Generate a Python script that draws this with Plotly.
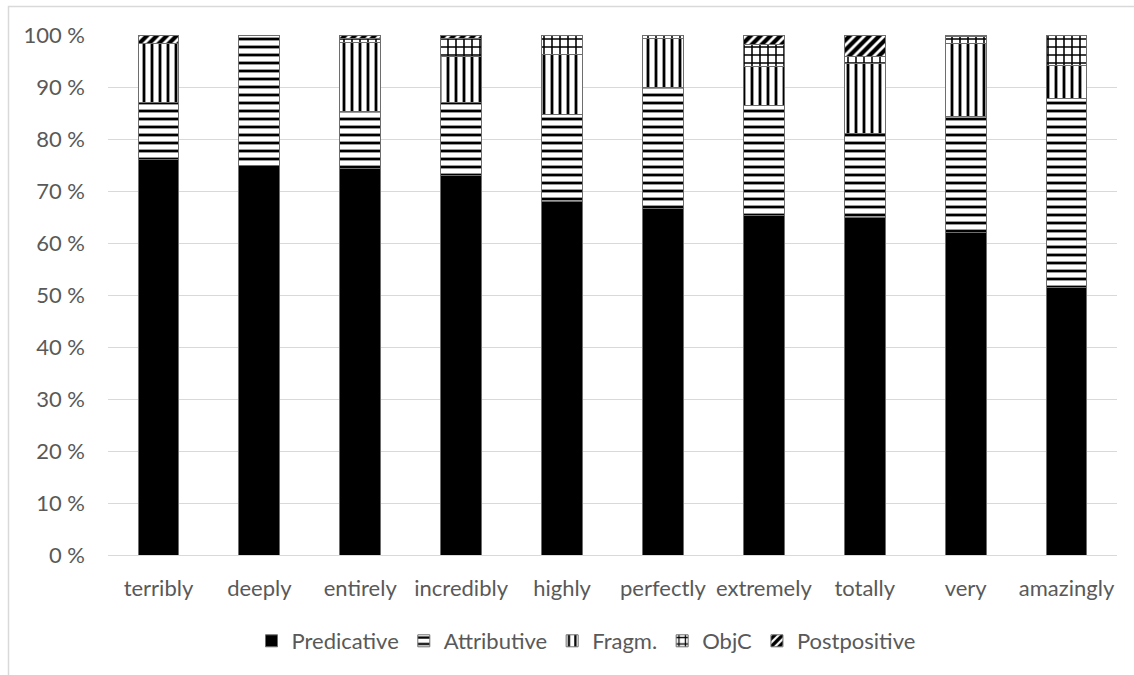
import plotly.graph_objects as go

# Intensifier collocates and their syntactic distribution (percent of uses)
adverbs = ["terribly", "deeply", "entirely", "incredibly", "highly",
           "perfectly", "extremely", "totally", "very", "amazingly"]

predicative = [76.0, 75.0, 74.4, 73.0, 67.9, 66.7, 65.2, 65.0, 62.1, 51.5]
attributive = [11.0, 25.0, 10.9, 14.0, 16.8, 23.3, 21.3, 16.0, 22.2, 36.2]
fragm = [11.3, 0.0, 13.2, 8.9, 11.5, 9.3, 7.5, 13.6, 14.1, 6.4]
objc = [0.0, 0.0, 0.9, 3.5, 3.8, 0.7, 4.1, 1.3, 1.3, 5.9]
postpositive = [1.7, 0.0, 0.6, 0.6, 0.0, 0.0, 1.9, 4.1, 0.3, 0.0]

tick_vals = [0, 10, 20, 30, 40, 50, 60, 70, 80, 90, 100]
tick_text = ["0 %", "10 %", "20 %", "30 %", "40 %", "50 %",
             "60 %", "70 %", "80 %", "90 %", "100 %"]

FONT = "Lato"
FSIZE = 22
GREY = "#595959"
EDGE = "#6e6e6e"


def hatch(shape, size=8, solidity=0.35):
    return dict(shape=shape, fgcolor="black", fgopacity=1, bgcolor="white",
                size=size, solidity=solidity, fillmode="replace")


series = [
    ("Predicative", predicative, dict(color="black")),
    ("Attributive", attributive, dict(color="white", pattern=hatch("-"))),
    ("Fragm.", fragm, dict(color="white", pattern=hatch("|"))),
    ("ObjC", objc, dict(color="white", pattern=hatch("+"))),
    ("Postpositive", postpositive,
     dict(color="white", pattern=hatch("/", size=7, solidity=0.6))),
]

fig = go.Figure()
for name, vals, mk in series:
    mk = dict(mk)
    mk["line"] = dict(color=EDGE, width=1)
    fig.add_trace(go.Bar(x=adverbs, y=vals, name=name, marker=mk))

# plot area geometry in pixels
W, H = 1134, 675
L, R, T, B = 108, 17, 35, 120
pw, ph = W - L - R, H - T - B


def px_x(p):
    return (p - L) / pw


def px_y(p):
    return (H - B - p) / ph


# light frame around the whole chart
fig.add_shape(type="rect", xref="paper", yref="paper",
              x0=px_x(8.5), x1=px_x(1160), y0=px_y(6.5), y1=px_y(700),
              line=dict(color="#d9d9d9", width=1.5), fillcolor="rgba(0,0,0,0)",
              layer="below")

fig.update_layout(
    width=W, height=H,
    barmode="stack", bargap=0.595,
    margin=dict(l=L, r=R, t=T, b=B, pad=0),
    paper_bgcolor="white", plot_bgcolor="white",
    font=dict(family=FONT, size=FSIZE, color=GREY),
    showlegend=True,
    legend=dict(orientation="h", x=px_x(586), xanchor="center",
                y=px_y(641), yanchor="middle",
                font=dict(family=FONT, size=FSIZE, color=GREY),
                itemwidth=30, traceorder="normal"),
    xaxis=dict(showgrid=False, showline=False, zeroline=False,
               ticks="", ticklabelstandoff=18,
               tickfont=dict(family=FONT, size=FSIZE, color=GREY)),
    yaxis=dict(range=[0, 100], tickmode="array", tickvals=tick_vals,
               ticktext=tick_text,
               showgrid=True, gridcolor="#d9d9d9", gridwidth=1,
               zeroline=True, zerolinecolor="#d9d9d9", zerolinewidth=1,
               showline=False, ticks="", ticklabelstandoff=22,
               tickfont=dict(family=FONT, size=FSIZE, color=GREY)),
)

fig.write_html("out.html")
